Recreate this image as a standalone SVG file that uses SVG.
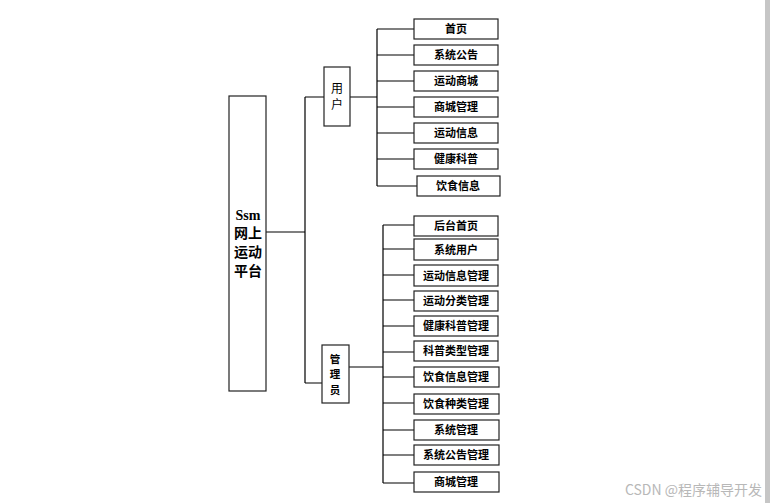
<svg xmlns="http://www.w3.org/2000/svg" width="770" height="503" viewBox="0 0 770 503">
<style>
.b{fill:#fff;stroke:#222;stroke-width:1.2}
.t{font-family:"Noto Sans CJK SC","Liberation Sans",sans-serif;font-size:11px;font-weight:bold;fill:#000;text-anchor:middle}
.c{fill:none;stroke:#000;stroke-width:1.2}
</style>
<rect width="770" height="503" fill="#fff"/>
<rect x="765" y="0" width="5" height="503" fill="#c6c6c6"/>
<g id="connectors">
<path class="c" d="M266 232H305M305 97V383M305 97H324M305 383H322"/>
<path class="c" d="M350 97H377M377 29V186M377 29H414M377 55H414M377 81H414M377 107H414M377 133H414M377 159H414M377 186H417"/>
<path class="c" d="M348 367H383M383 225V483M383 225H414M383 249H414M383 275H414M383 300H414M383 326H414M383 352H414M383 377H414M383 403H414M383 430H414M383 455H414M383 483H414"/>
</g>
<g id="root"><rect class="b" x="229" y="96" width="37" height="295"/>
<text class="t" style="font-size:14px" x="248" y="220"><tspan x="248" font-family="Liberation Serif,serif">Ssm</tspan><tspan x="248" dy="18">网上</tspan><tspan x="248" dy="19">运动</tspan><tspan x="248" dy="19">平台</tspan></text></g>
<g id="user"><rect class="b" x="324" y="67" width="26" height="59"/>
<text class="t" style="font-weight:normal;font-size:12px" x="337" y="93"><tspan x="337">用</tspan><tspan x="337" dy="16">户</tspan></text></g>
<g id="admin"><rect class="b" x="322" y="345" width="27" height="58"/>
<text class="t" style="font-size:10.5px" x="335" y="363"><tspan x="335">管</tspan><tspan x="335" dy="15.3">理</tspan><tspan x="335" dy="15.3">员</tspan></text></g>
<g id="u1"><rect class="b" x="414" y="19" width="84" height="20"/><text class="t" x="456" y="33">首页</text></g>
<g id="u2"><rect class="b" x="414" y="45" width="84" height="20"/><text class="t" x="456" y="59">系统公告</text></g>
<g id="u3"><rect class="b" x="414" y="71" width="84" height="20"/><text class="t" x="456" y="85">运动商城</text></g>
<g id="u4"><rect class="b" x="414" y="97" width="84" height="20"/><text class="t" x="456" y="111">商城管理</text></g>
<g id="u5"><rect class="b" x="414" y="123" width="84" height="20"/><text class="t" x="456" y="137">运动信息</text></g>
<g id="u6"><rect class="b" x="414" y="149" width="84" height="20"/><text class="t" x="456" y="163">健康科普</text></g>
<g id="u7"><rect class="b" x="417" y="176" width="83" height="20"/><text class="t" x="458" y="190">饮食信息</text></g>
<g id="a1"><rect class="b" x="414" y="216" width="84" height="20"/><text class="t" x="456" y="230">后台首页</text></g>
<g id="a2"><rect class="b" x="414" y="239" width="84" height="21"/><text class="t" x="456" y="254">系统用户</text></g>
<g id="a3"><rect class="b" x="414" y="265" width="84" height="21"/><text class="t" x="456" y="280">运动信息管理</text></g>
<g id="a4"><rect class="b" x="414" y="291" width="84" height="20"/><text class="t" x="456" y="305">运动分类管理</text></g>
<g id="a5"><rect class="b" x="414" y="316" width="84" height="20"/><text class="t" x="456" y="330">健康科普管理</text></g>
<g id="a6"><rect class="b" x="414" y="341" width="84" height="20"/><text class="t" x="456" y="355">科普类型管理</text></g>
<g id="a7"><rect class="b" x="414" y="367" width="85" height="20"/><text class="t" x="456" y="381">饮食信息管理</text></g>
<g id="a8"><rect class="b" x="414" y="394" width="85" height="20"/><text class="t" x="456" y="408">饮食种类管理</text></g>
<g id="a9"><rect class="b" x="414" y="420" width="85" height="20"/><text class="t" x="456" y="434">系统管理</text></g>
<g id="a10"><rect class="b" x="414" y="445" width="85" height="20"/><text class="t" x="456" y="459">系统公告管理</text></g>
<g id="a11"><rect class="b" x="414" y="472" width="85" height="20"/><text class="t" x="456" y="486">商城管理</text></g>
<text x="762" y="495" font-family="Noto Sans CJK SC,Liberation Sans,sans-serif" font-size="14" fill="#b8b8b8" text-anchor="end">CSDN @程序辅导开发</text>
</svg>
